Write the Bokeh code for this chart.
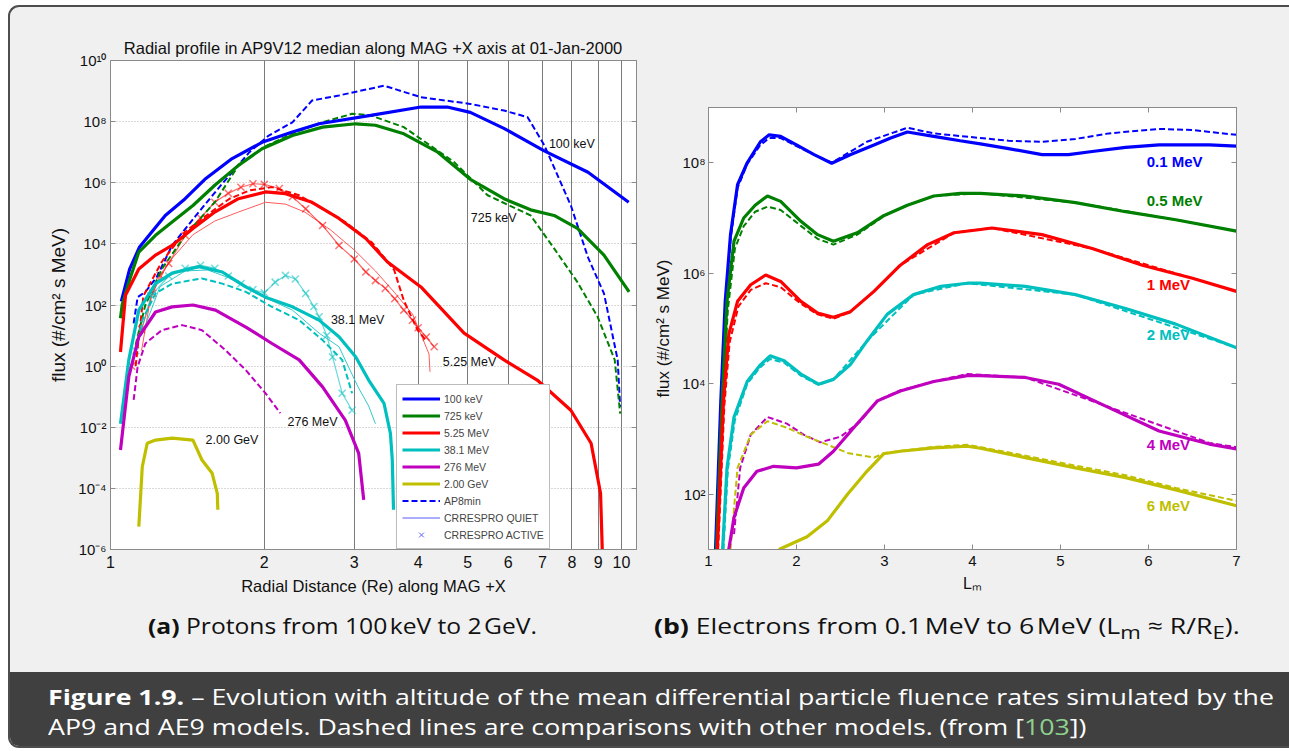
from bokeh.plotting import figure
from bokeh.models import (LogAxis, LinearAxis, FixedTicker, CustomJSTickFormatter,
                          Legend, LegendItem, Div, Label, Spacer)
from bokeh.layouts import column, row
from bokeh.embed import file_html
from bokeh.resources import INLINE

# ------------------------------------------------------------------ data
# (a) protons: radial distance (Re) and flux (#/cm2 s MeV)
p100_r = [1.05, 1.09, 1.14, 1.19, 1.28, 1.40, 1.53, 1.73, 1.98, 2.27, 2.56, 3.23, 4.05, 4.56, 5.06, 5.90, 7.06, 8.60, 10.33]
p100_f = [1.3e2, 1.5e3, 7.9e3, 1.9e4, 8.5e4, 3.0e5, 1.3e6, 6.2e6, 2.1e7, 4.6e7, 8.5e7, 1.6e8, 3.0e8, 3.0e8, 2.0e8, 5.9e7, 1.1e7, 2.2e6, 2.3e5]
ap8_100_r = [1.11, 1.13, 1.17, 1.23, 1.32, 1.47, 1.66, 1.87, 2.04, 2.27, 2.48, 2.80, 3.43, 4.05, 5.06, 5.89, 6.55, 7.06, 7.96, 8.60, 9.24, 9.83, 9.94]
ap8_100_f = [2.5e1, 1.8e2, 2.7e2, 7.9e2, 8.9e3, 8.5e4, 1.0e6, 1.0e7, 3.5e7, 9.5e7, 4.9e8, 7.2e8, 1.5e9, 6.3e8, 3.8e8, 2.3e8, 1.4e8, 1.7e7, 1.8e5, 3.6e3, 2.4e2, 1.6, 4.7e-2]

p725_r = [1.046, 1.054, 1.086, 1.136, 1.225, 1.32, 1.45, 1.60, 1.78, 1.98, 2.27, 2.60, 3.02, 3.30, 3.75, 4.37, 5.06, 5.89, 6.64, 7.38, 8.20, 9.24, 10.35]
p725_f = [3.7e1, 1.0e2, 5.6e2, 5.4e3, 1.9e4, 5.2e4, 1.8e5, 8.3e5, 3.7e6, 1.3e7, 3.5e7, 6.6e7, 8.5e7, 7.6e7, 4.0e7, 1.0e7, 1.3e6, 3.0e5, 1.3e5, 8.5e4, 3.2e4, 4.3e3, 2.7e2]
ap8_725_r = [1.12, 1.17, 1.26, 1.40, 1.60, 1.78, 2.00, 2.30, 2.60, 2.97, 3.23, 3.75, 4.70, 5.47, 6.64, 7.38, 8.20, 8.98, 9.70, 9.94]
ap8_725_f = [5.0, 1.0e2, 1.5e3, 1.9e4, 2.3e5, 3.7e6, 1.5e7, 4.5e7, 9.5e7, 1.8e8, 1.6e8, 6.6e7, 4.8e6, 3.9e5, 8.5e4, 7.1e3, 5.6e2, 4.1e1, 1.6, 2.8e-2]

p525_r = [1.046, 1.07, 1.136, 1.225, 1.32, 1.45, 1.60, 1.78, 2.01, 2.20, 2.48, 2.80, 3.16, 3.48, 4.05, 4.92, 5.89, 6.84, 7.96, 8.72, 9.10, 9.17]
p525_f = [2.9, 2.1e2, 1.5e3, 4.3e3, 8.9e3, 3.2e4, 1.1e5, 3.0e5, 5.0e5, 4.4e5, 2.3e5, 6.8e4, 1.5e4, 2.6e3, 3.9e2, 1.2e1, 1.6, 3.5e-1, 3.6e-2, 3.0e-3, 6.9e-5, 1.0e-6]
ap8_525_r = [1.12, 1.16, 1.26, 1.40, 1.54, 1.71, 1.87, 2.07, 2.34, 2.60, 2.88, 3.25, 3.59, 3.75, 3.99, 4.14]
ap8_525_f = [1.0, 2.0e2, 2.6e3, 2.5e4, 8.5e4, 3.0e5, 5.6e5, 7.2e5, 3.9e5, 1.4e5, 5.2e4, 1.1e4, 1.4e3, 1.4e2, 1.5e1, 7.1]
crq_525_r = [1.15, 1.20, 1.30, 1.45, 1.60, 1.78, 2.01, 2.20, 2.40, 2.70, 3.00, 3.30, 3.60, 3.90, 4.07, 4.20, 4.22]
crq_525_f = [3.2, 2.0e2, 2.5e3, 2.0e4, 5.6e4, 1.1e5, 2.3e5, 2.0e5, 1.1e5, 2.8e4, 6.3e3, 1.3e3, 2.5e2, 5.0e1, 9.1, 2.5, 6.5e-1]
cra_525_r = [1.10, 1.15, 1.21, 1.25, 1.30, 1.40, 1.50, 1.60, 1.70, 1.80, 1.90, 2.00, 2.14, 2.27, 2.41, 2.60, 2.80, 3.00, 3.16, 3.30, 3.45, 3.60, 3.75, 3.90, 4.00, 4.15, 4.30]
cra_525_f = [1.0, 1.6e1, 2.4e2, 9.3e2, 2.3e3, 1.9e4, 7.1e4, 2.3e5, 4.5e5, 7.1e5, 9.3e5, 8.9e5, 6.5e5, 3.5e5, 1.4e5, 4.0e4, 8.9e3, 3.2e3, 1.2e3, 6.3e2, 3.5e2, 1.6e2, 6.8e1, 3.2e1, 1.8e1, 8.9, 4.3]

p381_r = [1.046, 1.086, 1.136, 1.225, 1.32, 1.49, 1.655, 1.84, 2.01, 2.27, 2.56, 2.80, 3.02, 3.20, 3.43, 3.53, 3.56, 3.58]
p381_f = [1.3e-2, 1.6, 6.8e1, 5.0e2, 1.1e3, 1.8e3, 1.2e3, 3.9e2, 1.8e2, 8.7e1, 3.2e1, 9.1, 2.0, 3.5e-1, 6.0e-2, 6.3e-3, 8.5e-4, 2.0e-5]
ap8_381_r = [1.10, 1.154, 1.225, 1.32, 1.51, 1.655, 1.84, 2.07, 2.34, 2.60, 2.84, 2.97]
ap8_381_f = [1.0, 3.2e1, 2.4e2, 5.0e2, 7.4e2, 5.0e2, 2.7e2, 8.7e1, 3.2e1, 7.1, 1.6, 1.3e-1]
crq_381_r = [1.15, 1.25, 1.40, 1.55, 1.70, 1.85, 2.00, 2.27, 2.56, 2.80, 3.05, 3.20, 3.30]
crq_381_f = [1.0e1, 4.0e2, 1.3e3, 1.4e3, 7.9e2, 3.5e2, 1.8e2, 6.8e1, 1.2e1, 4.3, 2.1e-1, 5.0e-2, 1.3e-2]
cra_381_r = [1.12, 1.20, 1.30, 1.40, 1.50, 1.60, 1.70, 1.80, 1.90, 2.00, 2.10, 2.20, 2.30, 2.41, 2.50, 2.56, 2.65, 2.72, 2.84, 2.97]
cra_381_f = [3.2, 2.0e2, 8.9e2, 1.6e3, 2.0e3, 1.6e3, 8.9e2, 5.0e2, 3.2e2, 2.5e2, 5.6e2, 9.3e2, 7.1e2, 2.4e2, 8.9e1, 4.1e1, 1.0e1, 2.0, 1.3e-1, 3.6e-2]

p276_r = [1.046, 1.086, 1.136, 1.225, 1.32, 1.45, 1.605, 1.84, 2.07, 2.34, 2.60, 2.88, 3.06, 3.13]
p276_f = [1.8e-3, 4.5e-1, 9.1, 5.9e1, 8.7e1, 1.0e2, 6.8e1, 1.9e1, 5.5, 1.6, 2.1e-1, 1.7e-2, 1.4e-3, 4.2e-5]
ap8_276_r = [1.11, 1.13, 1.17, 1.26, 1.38, 1.51, 1.68, 1.84, 2.01, 2.15]
ap8_276_f = [7.8e-2, 9.5e-1, 5.5, 1.5e1, 2.2e1, 1.5e1, 3.3, 7.4e-1, 1.3e-1, 2.9e-2]

p2000_r = [1.136, 1.154, 1.18, 1.225, 1.32, 1.45, 1.51, 1.58, 1.618, 1.622]
p2000_f = [5.6e-6, 5.1e-4, 3.0e-3, 3.8e-3, 4.4e-3, 3.8e-3, 8.5e-4, 3.2e-4, 6.9e-5, 2.0e-5]

left_ticks_x = [1, 2, 3, 4, 5, 6, 7, 8, 9, 10]
left_grid_x = [2, 3, 4, 5, 6, 7, 8, 9, 10]
left_ticks_y = [1e-6, 1e-4, 1e-2, 1e0, 1e2, 1e4, 1e6, 1e8, 1e10]
left_grid_y = [1e-4, 1e-2, 1e0, 1e2, 1e4, 1e6, 1e8]
left_series_names = ["100 keV", "725 keV", "5.25 MeV", "38.1 MeV", "276 MeV", "2.00 GeV"]
left_curve_labels = [("100 keV", 7.21, 1.9e7), ("725 keV", 5.07, 6.9e4), ("38.1 MeV", 2.70, 3.2e1),
                     ("5.25 MeV", 4.47, 1.35), ("276 MeV", 2.22, 1.5e-2), ("2.00 GeV", 1.535, 3.8e-3)]

# (b) electrons: L shell and flux
e01_l = [1.08, 1.14, 1.19, 1.25, 1.33, 1.44, 1.59, 1.69, 1.82, 2.00, 2.20, 2.40, 2.61, 2.88, 3.07, 3.26, 3.56, 3.86, 4.09, 4.41, 4.79, 5.09, 5.36, 5.74, 6.12, 6.69, 7.00]
e01_f = [1.0e1, 4.9e3, 3.1e5, 5.0e6, 4.0e7, 1.0e8, 2.4e8, 3.2e8, 3.0e8, 2.1e8, 1.4e8, 9.8e7, 1.4e8, 2.1e8, 2.8e8, 3.6e8, 3.0e8, 2.5e8, 2.2e8, 1.8e8, 1.4e8, 1.4e8, 1.6e8, 1.9e8, 2.1e8, 2.1e8, 2.0e8]
e01d_l = [1.09, 1.14, 1.19, 1.25, 1.33, 1.44, 1.59, 1.69, 1.82, 2.00, 2.20, 2.40, 2.80, 3.26, 3.56, 4.09, 4.41, 4.79, 5.17, 5.55, 6.12, 6.50, 7.00]
e01d_f = [1.0e1, 4.0e3, 2.5e5, 4.0e6, 3.5e7, 9.5e7, 2.1e8, 2.8e8, 2.8e8, 2.0e8, 1.4e8, 1.0e8, 2.4e8, 4.3e8, 3.4e8, 2.8e8, 2.5e8, 2.4e8, 2.7e8, 3.4e8, 4.1e8, 3.9e8, 3.2e8]
e05_l = [1.09, 1.155, 1.21, 1.29, 1.40, 1.53, 1.67, 1.82, 2.05, 2.24, 2.42, 2.69, 2.99, 3.26, 3.56, 3.86, 4.09, 4.60, 5.17, 5.74, 6.31, 7.00]
e05_f = [1.0e1, 4.9e3, 3.1e5, 3.8e6, 1.0e7, 1.7e7, 2.5e7, 2.0e7, 8.7e6, 5.0e6, 3.8e6, 5.4e6, 1.1e7, 1.7e7, 2.5e7, 2.8e7, 2.8e7, 2.5e7, 1.9e7, 1.3e7, 9.3e6, 5.8e6]
e05d_l = [1.10, 1.16, 1.22, 1.30, 1.40, 1.53, 1.67, 1.82, 2.05, 2.24, 2.42, 2.69, 3.00, 3.26, 3.56, 4.09, 5.17, 6.31, 7.00]
e05d_f = [1.0e1, 4.0e3, 2.2e5, 2.8e6, 7.1e6, 1.3e7, 1.6e7, 1.4e7, 7.2e6, 4.2e6, 3.3e6, 5.0e6, 1.1e7, 1.7e7, 2.5e7, 2.8e7, 1.9e7, 9.3e6, 5.8e6]
e1_l = [1.10, 1.17, 1.23, 1.33, 1.48, 1.65, 1.82, 2.05, 2.24, 2.42, 2.61, 2.88, 3.18, 3.49, 3.79, 4.09, 4.22, 4.79, 5.36, 5.93, 6.50, 7.00]
e1_f = [1.0e1, 4.9e3, 7.8e4, 3.1e5, 6.2e5, 9.3e5, 7.1e5, 3.1e5, 1.9e5, 1.6e5, 2.0e5, 4.7e5, 1.4e6, 3.3e6, 5.4e6, 6.2e6, 6.6e6, 5.0e6, 2.8e6, 1.4e6, 8.1e5, 4.7e5]
e1d_l = [1.11, 1.18, 1.24, 1.34, 1.48, 1.65, 1.82, 2.05, 2.24, 2.42, 2.61, 2.88, 3.18, 3.79, 4.22, 5.36, 6.50, 7.00]
e1d_f = [1.0e1, 4.0e3, 5.6e4, 2.5e5, 5.0e5, 6.6e5, 5.6e5, 2.8e5, 1.8e5, 1.5e5, 2.0e5, 4.7e5, 1.4e6, 5.4e6, 6.6e6, 2.8e6, 8.1e5, 4.7e5]
e2_l = [1.16, 1.21, 1.29, 1.44, 1.59, 1.70, 1.86, 2.05, 2.25, 2.42, 2.61, 2.80, 3.03, 3.33, 3.64, 3.94, 4.09, 4.60, 5.17, 5.74, 6.31, 7.00]
e2_f = [1.0e1, 3.0e2, 2.5e3, 1.1e4, 2.2e4, 3.2e4, 2.6e4, 1.5e4, 9.8e3, 1.2e4, 2.2e4, 5.9e4, 1.8e5, 4.1e5, 5.8e5, 6.6e5, 6.6e5, 5.8e5, 4.1e5, 2.3e5, 1.2e5, 4.5e4]
e2d_l = [1.17, 1.22, 1.30, 1.44, 1.59, 1.70, 1.86, 2.05, 2.25, 2.42, 2.80, 3.33, 3.94, 5.17, 7.00]
e2d_f = [1.0e1, 2.8e2, 2.2e3, 1.0e4, 2.0e4, 2.8e4, 2.4e4, 1.4e4, 9.5e3, 1.2e4, 5.9e4, 4.1e5, 6.6e5, 4.1e5, 4.5e4]
e4_l = [1.23, 1.29, 1.40, 1.55, 1.74, 2.00, 2.25, 2.42, 2.65, 2.92, 3.18, 3.56, 3.94, 4.09, 4.60, 4.98, 5.55, 6.12, 6.69, 7.00]
e4_f = [1.0e1, 3.8e1, 1.3e2, 2.6e2, 3.2e2, 3.0e2, 3.5e2, 6.0e2, 1.6e3, 4.9e3, 7.4e3, 1.1e4, 1.4e4, 1.4e4, 1.3e4, 9.8e3, 3.7e3, 1.4e3, 8.1e2, 6.6e2]
e4d_l = [1.29, 1.36, 1.48, 1.67, 1.89, 2.08, 2.27, 2.50, 2.73, 2.92, 3.18, 3.56, 3.94, 4.60, 5.55, 6.69, 7.00]
e4d_f = [1.9e1, 3.0e2, 1.2e3, 2.5e3, 1.9e3, 1.2e3, 8.7e2, 1.1e3, 2.1e3, 5.0e3, 7.6e3, 1.1e4, 1.5e4, 1.3e4, 3.8e3, 8.5e2, 7.1e2]
e6_l = [1.80, 2.12, 2.35, 2.58, 2.80, 2.99, 3.18, 3.56, 3.94, 4.09, 4.60, 5.17, 5.74, 6.31, 7.00]
e6_f = [1.0e1, 1.7e1, 3.3e1, 1.0e2, 2.6e2, 5.4e2, 6.0e2, 6.9e2, 7.4e2, 6.8e2, 4.6e2, 3.0e2, 2.0e2, 1.2e2, 6.2e1]
e6d_l = [1.25, 1.33, 1.48, 1.67, 1.89, 2.12, 2.35, 2.58, 2.88, 3.00, 3.56, 3.94, 4.60, 5.17, 5.74, 6.31, 7.00]
e6d_f = [1.0e1, 3.0e2, 1.2e3, 2.1e3, 1.6e3, 1.1e3, 7.9e2, 5.6e2, 4.6e2, 5.6e2, 7.2e2, 7.9e2, 5.0e2, 3.3e2, 2.2e2, 1.3e2, 7.6e1]

right_ticks_x = [1, 2, 3, 4, 5, 6, 7]
right_ticks_y = [1e2, 1e4, 1e6, 1e8]
right_curve_labels = [("0.1 MeV", 5.98, 1.05e8), ("0.5 MeV", 5.98, 2.1e7), ("1 MeV", 5.98, 6.3e5),
                      ("2 MeV", 5.98, 7.9e4), ("4 MeV", 5.98, 8.1e2), ("6 MeV", 5.98, 6.2e1)]

TITLE = "Radial profile in AP9V12 median along MAG +X axis at 01-Jan-2000"
YLABEL = "flux (#/cm\u00b2 s MeV)"

# ------------------------------------------------------------------ style
FONT = "Liberation Sans"
BLUE, GREEN, RED, CYAN, MAG, YEL = "#0000ff", "#008000", "#ff0000", "#00bfbf", "#bf00bf", "#bfbf00"
FRAME = "#8a8a8a"
NAN = float("nan")

SUP = CustomJSTickFormatter(code="""
const sup = {"-": "\u207b", "0": "\u2070", "1": "\u00b9", "2": "\u00b2", "3": "\u00b3",
             "4": "\u2074", "5": "\u2075", "6": "\u2076", "7": "\u2077", "8": "\u2078", "9": "\u2079"};
const e = Math.round(Math.log10(tick));
return "10" + String(e).split("").map(c => sup[c]).join("");
""")
INT = CustomJSTickFormatter(code="return String(Math.round(tick));")


def blank():
    return CustomJSTickFormatter(code="return '';")


def style_axis(ax, size):
    ax.major_label_text_font = FONT
    ax.major_label_text_font_size = size
    ax.major_label_text_color = "#111111"
    ax.axis_label_text_font = FONT
    ax.axis_label_text_font_style = "normal"
    ax.axis_label_text_color = "#111111"
    ax.axis_line_color = FRAME
    ax.major_tick_line_color = FRAME
    ax.major_tick_in = 5
    ax.major_tick_out = 0
    ax.minor_tick_line_color = None


# ------------------------------------------------------------------ (a) protons
left = figure(width=635, height=593, x_axis_type="log", y_axis_type="log",
              x_range=(1, 10.7), y_range=(1e-6, 1e10),
              output_backend="svg", toolbar_location=None,
              min_border_left=100, min_border_right=9, min_border_top=53, min_border_bottom=51,
              background_fill_color="white", border_fill_color=None,
              outline_line_color=FRAME)
left.title.text = TITLE
left.title.align = "center"
left.title.text_font = FONT
left.title.text_font_size = "16.5px"
left.title.text_font_style = "normal"
left.title.text_color = "#111111"
left.title.standoff = 8

left.xaxis.ticker = FixedTicker(ticks=left_ticks_x)
left.xaxis.formatter = INT
left.xaxis.axis_label = "Radial Distance (Re) along MAG +X"
style_axis(left.xaxis[0], "16px")
left.xaxis.axis_label_text_font_size = "16.5px"
left.xaxis.major_label_standoff = 6
left.xaxis.axis_label_standoff = 6
left.xaxis.major_tick_in = 0

left.yaxis.ticker = FixedTicker(ticks=left_ticks_y)
left.yaxis.formatter = SUP
left.yaxis.axis_label = YLABEL
style_axis(left.yaxis[0], "15px")
left.yaxis.axis_label_text_font_size = "19px"
left.yaxis.major_label_standoff = 4
left.yaxis.axis_label_standoff = 6

ry = LogAxis(ticker=FixedTicker(ticks=left_ticks_y), formatter=blank(), major_label_standoff=0)
style_axis(ry, "1px")
left.add_layout(ry, "right")

left.xgrid.ticker = FixedTicker(ticks=left_grid_x)
left.xgrid.grid_line_color = "#7a7a7a"
left.xgrid.grid_line_width = 1
left.ygrid.ticker = FixedTicker(ticks=left_grid_y)
left.ygrid.grid_line_color = "#b5b5b5"
left.ygrid.grid_line_dash = "1 2"

# thin quiet curves and active crosses (CRRESPRO)
left.line(crq_525_r, crq_525_f, color="#ff5a5a", line_width=1)
left.line(cra_525_r, cra_525_f, color=RED, line_width=1.2, alpha=0.6)
left.scatter(cra_525_r, cra_525_f, marker="x", size=10, color=RED, line_width=1.5, alpha=0.55)
left.line(crq_381_r, crq_381_f, color="#33c9c9", line_width=1)
left.line(cra_381_r, cra_381_f, color=CYAN, line_width=1.2, alpha=0.6)
left.scatter(cra_381_r, cra_381_f, marker="x", size=10, color=CYAN, line_width=1.5, alpha=0.55)

# AP8min dashed
ap_blue = left.line(ap8_100_r, ap8_100_f, color=BLUE, line_width=2, line_dash="6 3")
left.line(ap8_725_r, ap8_725_f, color=GREEN, line_width=2, line_dash="6 3")
left.line(ap8_525_r, ap8_525_f, color=RED, line_width=2, line_dash="6 3")
left.line(ap8_381_r, ap8_381_f, color=CYAN, line_width=2, line_dash="6 3")
left.line(ap8_276_r, ap8_276_f, color=MAG, line_width=2, line_dash="6 3")

# AP9 solid
solid = []
for rr, ff, cc in [(p100_r, p100_f, BLUE), (p725_r, p725_f, GREEN), (p525_r, p525_f, RED),
                   (p381_r, p381_f, CYAN), (p276_r, p276_f, MAG), (p2000_r, p2000_f, YEL)]:
    solid.append(left.line(rr, ff, color=cc, line_width=3.2))

# legend-only glyphs (no visible data)
quiet_leg = left.line([NAN], [NAN], color="#5a5aff", line_width=1)
active_leg = left.scatter([NAN], [NAN], marker="x", size=7, color="#6060ff", line_width=1)

items = [LegendItem(label=n, renderers=[r]) for n, r in zip(left_series_names, solid)]
items += [LegendItem(label="AP8min", renderers=[ap_blue]),
          LegendItem(label="CRRESPRO QUIET", renderers=[quiet_leg]),
          LegendItem(label="CRRESPRO ACTIVE", renderers=[active_leg])]
legend = Legend(items=items, location=(286, 0), label_text_font=FONT, label_text_font_size="10.5px",
                glyph_width=38, glyph_height=17, label_height=17, spacing=0, padding=5, margin=0,
                label_standoff=4, border_line_color="#7a7a7a", background_fill_color="white",
                background_fill_alpha=1)
left.add_layout(legend)

for txt, xx, yy in left_curve_labels:
    left.add_layout(Label(x=xx, y=yy, text=txt, text_font=FONT, text_font_size="12.5px",
                          text_baseline="middle", text_align="left", text_color="#111111"))

# ------------------------------------------------------------------ (b) electrons
right = figure(width=644, height=546, y_axis_type="log",
               x_range=(1, 7), y_range=(1e1, 1e9),
               output_backend="svg", toolbar_location=None,
               min_border_left=63, min_border_right=53, min_border_top=53, min_border_bottom=51,
               background_fill_color="white", border_fill_color=None,
               outline_line_color=FRAME)
right.xgrid.visible = False
right.ygrid.visible = False
right.xaxis.ticker = FixedTicker(ticks=right_ticks_x)
right.xaxis.formatter = INT
right.xaxis.axis_label = "L\u2098"
style_axis(right.xaxis[0], "15px")
right.xaxis.axis_label_text_font_size = "16px"
right.xaxis.major_label_standoff = 6
right.xaxis.axis_label_standoff = 6
right.yaxis.ticker = FixedTicker(ticks=right_ticks_y)
right.yaxis.formatter = SUP
right.yaxis.axis_label = YLABEL
style_axis(right.yaxis[0], "15px")
right.yaxis.axis_label_text_font_size = "17px"
right.yaxis.major_label_standoff = 3
right.yaxis.axis_label_standoff = 6

tx = LinearAxis(ticker=FixedTicker(ticks=right_ticks_x), formatter=blank(), major_label_standoff=0)
style_axis(tx, "1px")
right.add_layout(tx, "above")
ty = LogAxis(ticker=FixedTicker(ticks=right_ticks_y), formatter=blank(), major_label_standoff=0)
style_axis(ty, "1px")
right.add_layout(ty, "right")

for ll, ff, cc in [(e01d_l, e01d_f, BLUE), (e05d_l, e05d_f, GREEN), (e1d_l, e1d_f, RED),
                   (e2d_l, e2d_f, CYAN), (e4d_l, e4d_f, MAG), (e6d_l, e6d_f, YEL)]:
    right.line(ll, ff, color=cc, line_width=2, line_dash="6 3")
for ll, ff, cc in [(e01_l, e01_f, BLUE), (e05_l, e05_f, GREEN), (e1_l, e1_f, RED),
                   (e2_l, e2_f, CYAN), (e4_l, e4_f, MAG), (e6_l, e6_f, YEL)]:
    right.line(ll, ff, color=cc, line_width=3.2)

for (txt, xx, yy), cc in zip(right_curve_labels, [BLUE, GREEN, RED, CYAN, MAG, YEL]):
    right.add_layout(Label(x=xx, y=yy, text=txt, text_font=FONT, text_font_size="15px",
                           text_font_style="bold", text_baseline="middle", text_align="left",
                           text_color=cc))

right_col = column(Spacer(width=644, height=47, margin=0), right)

# ------------------------------------------------------------------ captions
CAP = "font-family:'Open Sans';font-size:22px;color:#111;white-space:nowrap;"
SPAN = "display:inline-block;transform-origin:0 0;transform:scaleX({});"
cap_a = Div(text='<div style="' + CAP + 'padding:10px 0 0 138px;">'
                 '<span style="' + SPAN.format(1.12) + '">'
                 '<b>(a)</b> Protons from 100&#8202;keV to 2&#8202;GeV.</span></div>',
            width=635, height=72, margin=0)
cap_b = Div(text='<div style="' + CAP + 'padding:10px 0 0 9px;">'
                 '<span style="' + SPAN.format(1.21) + '">'
                 '<b>(b)</b> Electrons from 0.1&#8202;MeV to 6&#8202;MeV '
                 '(L<sub>m</sub> &#8776; R/R<sub>E</sub>).</span></div>',
            width=644, height=72, margin=0)
dark = Div(text='<div style="font-family:\'Open Sans\';font-size:22px;line-height:30px;color:#ffffff;'
                'white-space:nowrap;padding:9px 0 0 38px;">'
                '<span style="' + SPAN.format(1.215) + '">'
                '<b>Figure 1.9.</b> &#8211; Evolution with altitude of the mean differential particle '
                'fluence rates simulated by the<br>AP9 and AE9 models. Dashed lines are comparisons '
                'with other models. (from [<span style="color:#8fd18f">103</span>])</span></div>',
           width=1279, height=74, margin=0, styles={"background-color": "#404040"})

root = column(row(left, right_col), row(cap_a, cap_b), dark,
              margin=(5, 0, 0, 8),
              styles={"border-top": "2px solid #4d4d4d", "border-left": "2px solid #4d4d4d",
                      "border-bottom": "2px solid #4d4d4d", "border-radius": "11px 0 0 11px",
                      "background-color": "#f0f0f0", "overflow": "hidden"})

open("out.html", "w", encoding="utf-8").write(file_html(root, INLINE))
